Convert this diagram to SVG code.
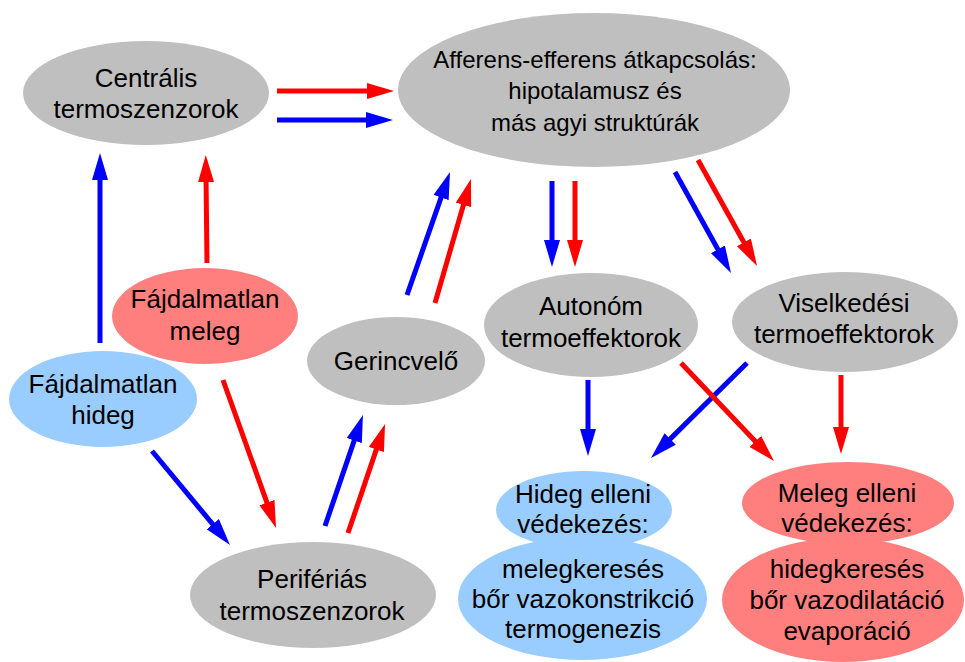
<svg xmlns="http://www.w3.org/2000/svg" width="965" height="662" viewBox="0 0 965 662">
<defs>
<style>
text{font-family:"Liberation Sans",Arial,sans-serif;font-size:26px;fill:#000;text-anchor:middle}
.g{fill:#BFBFBF}
.b{fill:#99CCFF}
.r{fill:#FF7F7F}
.ab{stroke:#0000FF;stroke-width:5;fill:none;marker-end:url(#mb)}
.ar{stroke:#FF0000;stroke-width:5;fill:none;marker-end:url(#mr)}
.sm{font-size:24px}
</style>
<marker id="mb" viewBox="0 0 27 16" markerWidth="27" markerHeight="16" refX="7" refY="8" orient="auto" markerUnits="userSpaceOnUse"><path d="M0,0 L27,8 L0,16 Z" fill="#0000FF"/></marker>
<marker id="mr" viewBox="0 0 27 16" markerWidth="27" markerHeight="16" refX="7" refY="8" orient="auto" markerUnits="userSpaceOnUse"><path d="M0,0 L27,8 L0,16 Z" fill="#FF0000"/></marker>
</defs>
<rect width="965" height="662" fill="#FFFFFF"/>
<g id="centralis"><ellipse class="g" cx="146" cy="93" rx="123" ry="52"/><text x="146" y="87">Centrális</text><text x="146" y="118">termoszenzorok</text></g>
<g id="afferens"><ellipse class="g" cx="594" cy="90" rx="196" ry="77"/><text class="sm" x="595" y="68">Afferens-efferens átkapcsolás:</text><text class="sm" x="595" y="99">hipotalamusz és</text><text class="sm" x="595" y="131">más agyi struktúrák</text></g>
<g id="meleg"><ellipse class="r" cx="205" cy="316" rx="93" ry="48"/><text x="205" y="308">Fájdalmatlan</text><text x="205" y="340">meleg</text></g>
<g id="hideg"><ellipse class="b" cx="103" cy="399" rx="94" ry="48"/><text x="103" y="393">Fájdalmatlan</text><text x="103" y="424">hideg</text></g>
<g id="gerincvelo"><ellipse class="g" cx="396" cy="361" rx="89" ry="44"/><text x="396" y="370">Gerincvelő</text></g>
<g id="periferias"><ellipse class="g" cx="313" cy="595" rx="123" ry="53"/><text x="312" y="588">Perifériás</text><text x="312" y="620">termoszenzorok</text></g>
<g id="autonom"><ellipse class="g" cx="591" cy="325" rx="107" ry="52"/><text x="591" y="315">Autonóm</text><text x="591" y="347">termoeffektorok</text></g>
<g id="viselkedesi"><ellipse class="g" cx="845" cy="322" rx="113" ry="50"/><text x="844" y="312">Viselkedési</text><text x="844" y="343">termoeffektorok</text></g>
<g id="hideg-vedekezes"><ellipse class="b" cx="584" cy="510" rx="88" ry="39"/><ellipse class="b" cx="582.5" cy="598.5" rx="124.5" ry="61.5"/><text x="583" y="503">Hideg elleni</text><text x="583" y="533">védekezés:</text><text x="583" y="578">melegkeresés</text><text x="583" y="608">bőr vazokonstrikció</text><text x="583" y="638">termogenezis</text></g>
<g id="meleg-vedekezes"><ellipse class="r" cx="848" cy="503" rx="106" ry="41"/><ellipse class="r" cx="843" cy="600" rx="121" ry="62"/><text x="847" y="502">Meleg elleni</text><text x="847" y="532">védekezés:</text><text x="847" y="578">hidegkeresés</text><text x="847" y="609">bőr vazodilatáció</text><text x="847" y="640">evaporáció</text></g>
<g id="connectors">
<line class="ar" x1="277" y1="91" x2="374" y2="91"/>
<line class="ab" x1="277" y1="120" x2="373" y2="120"/>
<line class="ab" x1="100" y1="343" x2="100" y2="173"/>
<line class="ar" x1="207" y1="263" x2="206" y2="175"/>
<line class="ab" x1="152" y1="451" x2="217.2" y2="529.6"/>
<line class="ar" x1="223" y1="380" x2="269.3" y2="509.2"/>
<line class="ab" x1="325" y1="526" x2="356.5" y2="433.9"/>
<line class="ar" x1="348" y1="533" x2="378.6" y2="442.9"/>
<line class="ab" x1="407" y1="295" x2="443.4" y2="190.9"/>
<line class="ar" x1="435" y1="303" x2="465.4" y2="198.2"/>
<line class="ab" x1="552" y1="181" x2="552" y2="247"/>
<line class="ar" x1="575" y1="181" x2="575" y2="247"/>
<line class="ab" x1="675" y1="172" x2="721.3" y2="255.5"/>
<line class="ar" x1="698" y1="160" x2="747.3" y2="248.5"/>
<line class="ab" x1="588" y1="380" x2="588" y2="436"/>
<line class="ab" x1="747" y1="363" x2="665.2" y2="443.9"/>
<line class="ar" x1="681" y1="363" x2="760.2" y2="446.5"/>
<line class="ar" x1="841" y1="375" x2="841" y2="434"/>
</g>
</svg>
